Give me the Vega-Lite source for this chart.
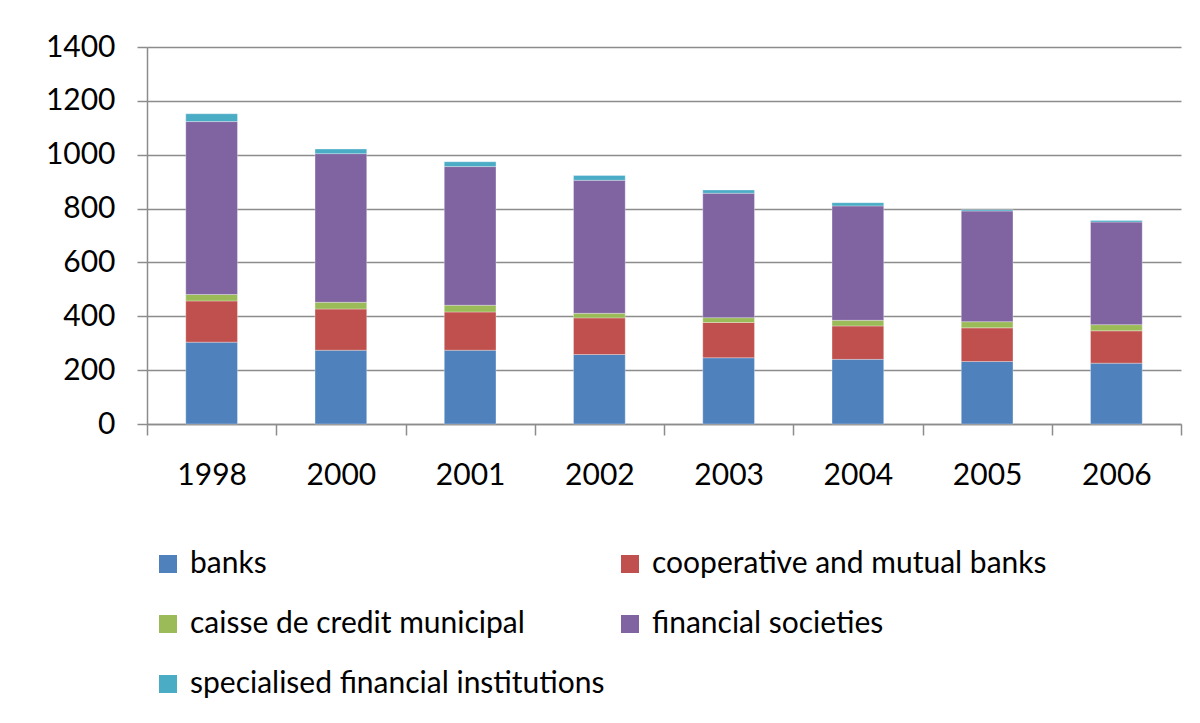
{
  "$schema": "https://vega.github.io/schema/vega-lite/v6.json",
  "autosize": "none",
  "width": 1034,
  "height": 377,
  "padding": {"left": 147, "top": 47, "right": 19, "bottom": 299},
  "background": "white",
  "config": {
    "font": "Lato",
    "view": {"stroke": null},
    "axis": {"labelFont": "Lato", "labelFontSize": 30, "labelColor": "#000000", "domainColor": "#8c8c8c", "tickColor": "#8c8c8c", "gridColor": "#8c8c8c", "domainWidth": 1.5, "tickWidth": 1.5, "gridWidth": 1.5}
  },
  "data": {
    "values": [
      {"year": "1998", "type": "banks", "k": 1, "value": 304},
      {"year": "1998", "type": "cooperative and mutual banks", "k": 2, "value": 153},
      {"year": "1998", "type": "caisse de credit municipal", "k": 3, "value": 24},
      {"year": "1998", "type": "financial societies", "k": 4, "value": 642},
      {"year": "1998", "type": "specialised financial institutions", "k": 5, "value": 29},
      {"year": "2000", "type": "banks", "k": 1, "value": 274},
      {"year": "2000", "type": "cooperative and mutual banks", "k": 2, "value": 153},
      {"year": "2000", "type": "caisse de credit municipal", "k": 3, "value": 25},
      {"year": "2000", "type": "financial societies", "k": 4, "value": 552},
      {"year": "2000", "type": "specialised financial institutions", "k": 5, "value": 17},
      {"year": "2001", "type": "banks", "k": 1, "value": 274},
      {"year": "2001", "type": "cooperative and mutual banks", "k": 2, "value": 142},
      {"year": "2001", "type": "caisse de credit municipal", "k": 3, "value": 25},
      {"year": "2001", "type": "financial societies", "k": 4, "value": 515},
      {"year": "2001", "type": "specialised financial institutions", "k": 5, "value": 18},
      {"year": "2002", "type": "banks", "k": 1, "value": 258},
      {"year": "2002", "type": "cooperative and mutual banks", "k": 2, "value": 136},
      {"year": "2002", "type": "caisse de credit municipal", "k": 3, "value": 17},
      {"year": "2002", "type": "financial societies", "k": 4, "value": 494},
      {"year": "2002", "type": "specialised financial institutions", "k": 5, "value": 18},
      {"year": "2003", "type": "banks", "k": 1, "value": 246},
      {"year": "2003", "type": "cooperative and mutual banks", "k": 2, "value": 131},
      {"year": "2003", "type": "caisse de credit municipal", "k": 3, "value": 18},
      {"year": "2003", "type": "financial societies", "k": 4, "value": 462},
      {"year": "2003", "type": "specialised financial institutions", "k": 5, "value": 12},
      {"year": "2004", "type": "banks", "k": 1, "value": 240},
      {"year": "2004", "type": "cooperative and mutual banks", "k": 2, "value": 124},
      {"year": "2004", "type": "caisse de credit municipal", "k": 3, "value": 21},
      {"year": "2004", "type": "financial societies", "k": 4, "value": 425},
      {"year": "2004", "type": "specialised financial institutions", "k": 5, "value": 12},
      {"year": "2005", "type": "banks", "k": 1, "value": 232},
      {"year": "2005", "type": "cooperative and mutual banks", "k": 2, "value": 125},
      {"year": "2005", "type": "caisse de credit municipal", "k": 3, "value": 23},
      {"year": "2005", "type": "financial societies", "k": 4, "value": 411},
      {"year": "2005", "type": "specialised financial institutions", "k": 5, "value": 5},
      {"year": "2006", "type": "banks", "k": 1, "value": 226},
      {"year": "2006", "type": "cooperative and mutual banks", "k": 2, "value": 120},
      {"year": "2006", "type": "caisse de credit municipal", "k": 3, "value": 23},
      {"year": "2006", "type": "financial societies", "k": 4, "value": 381},
      {"year": "2006", "type": "specialised financial institutions", "k": 5, "value": 6}
    ]
  },
  "mark": {"type": "bar", "width": {"band": 0.4}, "stroke": "#ffffff", "strokeWidth": 0.5, "strokeOpacity": 0.6},
  "encoding": {
    "x": {
      "field": "year", "type": "nominal",
      "scale": {"paddingInner": 0, "paddingOuter": 0},
      "axis": {"title": null, "labelAngle": 0, "tickBand": "extent", "tickSize": 11, "labelPadding": 25, "grid": false}
    },
    "y": {
      "field": "value", "type": "quantitative", "stack": "zero",
      "scale": {"domain": [0, 1400], "nice": false},
      "axis": {"title": null, "values": [0, 200, 400, 600, 800, 1000, 1200, 1400], "format": "d", "tickSize": 10, "labelPadding": 22, "grid": true}
    },
    "order": {"field": "k", "type": "quantitative"},
    "color": {
      "field": "type", "type": "nominal",
      "scale": {
        "domain": ["banks", "cooperative and mutual banks", "caisse de credit municipal", "financial societies", "specialised financial institutions"],
        "range": ["#4F81BD", "#C0504D", "#9BBB59", "#8064A2", "#4BACC6"]
      },
      "legend": {
        "title": null, "orient": "none", "legendX": 6, "legendY": 502, "direction": "horizontal", "columns": 2,
        "symbolType": "square", "symbolSize": 324, "symbolStrokeWidth": 0, "labelFont": "Lato", "labelFontSize": 30, "labelColor": "#000000",
        "labelOffset": 7, "columnPadding": 10, "rowPadding": 30, "labelLimit": 700
      }
    }
  }
}
